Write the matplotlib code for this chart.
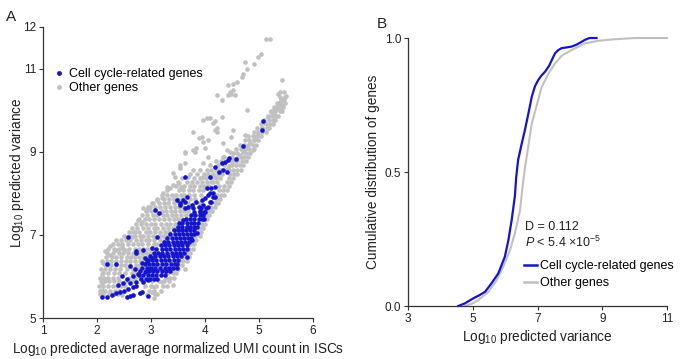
import matplotlib
matplotlib.use("Agg")
import matplotlib.pyplot as plt
from matplotlib.lines import Line2D

plt.rcParams['font.family'] = ['Liberation Sans', 'DejaVu Sans']
plt.rcParams['mathtext.fontset'] = 'custom'
plt.rcParams['mathtext.rm'] = 'Liberation Sans'
plt.rcParams['mathtext.it'] = 'Liberation Sans:italic'
plt.rcParams['mathtext.default'] = 'regular'

BLUE = '#1414cc'
GRAY = '#c0c0c0'
INK = '#222222'

# ---- panel A: (log10 mean UMI, log10 predicted variance)
other_genes = [
    # upper sparse branch
    (5.13, 11.70), (5.20, 11.71), (4.99, 11.28), (5.03, 11.34), (4.91, 11.12), (4.74, 11.15),
    (4.77, 11.00), (4.71, 10.88), (4.68, 10.80), (4.60, 10.68), (4.52, 10.64), (4.52, 10.48),
    (4.49, 10.40), (4.56, 10.36), (4.46, 10.44), (4.43, 10.36), (4.22, 10.36), (4.31, 10.24),
    (4.43, 10.60), (4.77, 10.00), (4.03, 9.80), (3.97, 9.76), (4.09, 9.80), (4.19, 9.73),
    (4.15, 9.69), (4.31, 9.84), (4.22, 9.48), (4.19, 9.52), (4.22, 9.56), (3.97, 9.24),
    (4.06, 9.27), (4.00, 9.10), (4.34, 9.20), (4.49, 9.36), (4.52, 9.52), (4.74, 9.40),
    (4.46, 9.00), (4.68, 9.08), (3.78, 9.48), (3.88, 9.32), (3.94, 9.36), (3.63, 8.96),
    (3.78, 9.04), (3.81, 9.00), (3.84, 9.08), (3.63, 9.00), (4.06, 8.88), (3.54, 8.68),
    (3.63, 8.72), (3.54, 8.60), (3.97, 8.72), (3.41, 8.48), (3.44, 8.40), (3.78, 8.56),
    (3.69, 8.40), (3.97, 8.40),
    # right-hand tip
    (5.42, 10.72), (5.39, 10.44), (5.46, 10.44), (5.48, 10.32), (5.38, 10.32), (5.39, 10.20),
    (5.36, 10.08), (5.36, 10.40), (5.45, 10.15), (5.50, 10.35), (5.45, 10.25), (5.40, 10.10),
    (5.33, 10.02), (5.27, 9.93), (5.30, 10.05), (5.35, 10.12), (5.28, 10.00), (5.40, 10.00),
    # main ridge
    (5.23, 9.96), (5.17, 9.84), (5.11, 9.68), (5.05, 9.56), (4.99, 9.44), (4.93, 9.36),
    (4.90, 9.28), (4.83, 9.20), (4.77, 9.12), (4.71, 9.00), (4.65, 8.92), (4.59, 8.86),
    (4.55, 8.80), (4.50, 8.72), (4.45, 8.65), (4.40, 8.58), (4.88, 9.05), (4.40, 9.04),
    (4.34, 8.88), (4.31, 8.72), (4.25, 8.56), (4.19, 8.40), (4.12, 8.28), (4.09, 8.16),
    # scattered points left of the band
    (3.29, 8.16), (3.35, 8.12), (3.41, 8.20), (3.51, 8.24), (3.56, 8.16), (3.23, 8.00),
    (3.29, 7.96), (3.20, 7.88), (2.86, 7.64), (2.92, 7.60), (2.98, 7.68), (3.04, 7.76),
    (3.11, 7.84), (2.76, 7.36), (2.83, 7.32), (2.55, 6.92), (2.64, 6.96), (2.67, 7.08),
    (2.46, 6.72), (2.52, 6.64), (2.24, 6.72), (2.15, 6.60), (2.24, 6.52), (2.36, 6.64),
    (2.12, 6.32), (2.21, 6.28), (2.09, 6.07), (2.09, 5.83), (2.09, 5.67), (2.46, 5.55),
    (2.67, 5.55), (2.80, 5.59), (2.92, 5.55), (3.06, 5.49), (3.01, 5.63), (3.40, 5.79),
    (3.63, 6.19), (3.06, 5.74), (3.20, 5.86),
]

# denser part of the gray cloud, one row per variance level: (y, [x ...])
other_rows = [
    (5.58, [2.05, 2.12, 2.22, 2.31, 2.38, 3.08, 3.12]),
    (5.66, [2.06, 2.14, 2.24, 2.33, 2.41, 2.97, 3.05, 3.18]),
    (5.78, [2.04, 2.11, 2.20, 2.30, 2.37, 2.45, 2.52, 2.88, 3.00, 3.10, 3.22, 3.30]),
    (5.88, [2.07, 2.14, 2.23, 2.31, 2.41, 2.53, 2.64, 3.02, 3.15, 3.24, 3.33]),
    (5.97, [2.05, 2.13, 2.21, 2.29, 2.39, 2.60, 2.71, 2.80, 3.28, 3.36, 3.43]),
    (6.08, [2.11, 2.20, 2.32, 2.41, 2.52, 2.64, 2.73, 3.32, 3.40, 3.47]),
    (6.18, [2.07, 2.15, 2.24, 2.33, 2.42, 2.55, 2.66, 2.75, 3.42, 3.50]),
    (6.27, [2.14, 2.26, 2.35, 2.44, 2.52, 2.62, 2.72, 2.79, 3.50, 3.57]),
    (6.38, [2.10, 2.18, 2.26, 2.35, 2.45, 2.53, 2.61, 2.71, 2.80, 2.86, 3.52, 3.60, 3.66]),
    (6.47, [2.16, 2.28, 2.36, 2.44, 2.55, 2.63, 2.70, 2.78, 2.86, 2.94, 3.58, 3.65, 3.70]),
    (6.57, [2.19, 2.30, 2.41, 2.49, 2.57, 2.67, 2.75, 2.83, 2.91, 2.98, 3.64, 3.72]),
    (6.67, [2.20, 2.32, 2.40, 2.48, 2.60, 2.70, 2.78, 2.85, 2.93, 3.00, 3.70, 3.77]),
    (6.77, [2.29, 2.38, 2.47, 2.58, 2.66, 2.75, 2.84, 2.95, 3.05, 3.12, 3.74, 3.80]),
    (6.87, [2.36, 2.45, 2.54, 2.61, 2.72, 2.81, 2.90, 2.97, 3.06, 3.17, 3.25, 3.78, 3.84]),
    (6.97, [2.50, 2.62, 2.70, 2.79, 2.86, 2.95, 3.03, 3.14, 3.22, 3.30, 3.82, 3.90]),
    (7.07, [2.60, 2.70, 2.78, 2.90, 2.99, 3.08, 3.17, 3.26, 3.34, 3.87, 3.93]),
    (7.17, [2.65, 2.74, 2.85, 2.95, 3.05, 3.12, 3.22, 3.31, 3.40, 3.47, 3.90, 3.97]),
    (7.27, [2.72, 2.81, 2.90, 3.00, 3.08, 3.18, 3.27, 3.36, 3.45, 3.55, 3.94, 4.00]),
    (7.37, [2.78, 2.88, 2.97, 3.05, 3.14, 3.24, 3.33, 3.42, 3.50, 3.58, 3.98, 4.04]),
    (7.47, [2.84, 2.93, 3.04, 3.12, 3.22, 3.30, 3.39, 3.46, 3.56, 3.64, 4.02, 4.08]),
    (7.57, [2.90, 3.00, 3.10, 3.20, 3.28, 3.37, 3.45, 3.53, 3.62, 3.68, 4.07, 4.13]),
    (7.67, [2.95, 3.08, 3.17, 3.26, 3.36, 3.44, 3.52, 3.60, 3.70, 4.12, 4.18]),
    (7.77, [3.02, 3.14, 3.24, 3.32, 3.43, 3.52, 3.58, 3.68, 3.80, 3.90, 4.18, 4.24]),
    (7.87, [3.12, 3.24, 3.34, 3.42, 3.50, 3.58, 3.72, 3.82, 4.20, 4.28]),
    (7.97, [3.20, 3.38, 3.46, 3.55, 3.62, 3.70, 3.80, 3.92, 4.22, 4.30, 4.36]),
    (8.07, [3.30, 3.52, 3.60, 3.70, 3.78, 3.88, 3.96, 4.26, 4.34, 4.40]),
    (8.17, [3.46, 3.62, 3.72, 3.80, 3.90, 3.98, 4.06, 4.26, 4.36, 4.44]),
    (8.27, [3.50, 3.66, 3.76, 3.86, 3.95, 4.03, 4.15, 4.22, 4.40, 4.48]),
    (8.37, [3.58, 3.80, 3.90, 4.02, 4.12, 4.20, 4.28, 4.45, 4.52]),
    (8.47, [3.72, 3.86, 3.98, 4.06, 4.15, 4.24, 4.31, 4.46, 4.54, 4.60]),
    (8.57, [3.90, 4.04, 4.12, 4.20, 4.30, 4.44, 4.52, 4.60, 4.66]),
    (8.67, [4.10, 4.24, 4.36, 4.50, 4.58, 4.64, 4.70]),
    (8.77, [4.20, 4.30, 4.50, 4.60, 4.68, 4.75]),
    (8.87, [4.36, 4.50, 4.66, 4.72, 4.80]),
    (8.97, [4.52, 4.60, 4.76, 4.84]),
    (9.07, [4.58, 4.66, 4.74, 4.82, 4.90]),
    (9.17, [4.64, 4.72, 4.80, 4.88, 4.95]),
    (9.27, [4.74, 4.82, 4.90, 4.98]),
    (9.37, [4.80, 4.88, 4.96, 5.04]),
    (9.47, [4.90, 4.98, 5.06, 5.12]),
    (9.57, [4.96, 5.06, 5.14, 5.18]),
    (9.67, [5.04, 5.12, 5.20, 5.25]),
    (9.77, [5.10, 5.18, 5.26, 5.30]),
    (9.87, [5.16, 5.24, 5.32, 5.36]),
    (9.97, [5.22, 5.30, 5.38, 5.42]),
    (10.07, [5.28, 5.36, 5.44]),
    (10.17, [5.34, 5.42, 5.48]),
    (10.27, [5.40, 5.47]),
]

cell_cycle_genes = [
    (2.10, 5.51), (2.19, 5.51), (2.27, 5.55), (2.35, 5.59), (2.43, 5.62), (2.50, 5.65),
    (2.58, 5.69), (2.66, 5.74), (2.73, 5.77), (2.55, 5.51), (2.61, 5.54), (2.67, 5.55),
    (2.80, 5.61), (2.94, 5.54), (2.35, 6.29), (2.18, 6.29), (2.58, 6.94), (2.83, 5.63),
    (2.73, 6.56), (2.86, 6.64), (3.01, 6.68), (2.61, 6.24), (2.70, 6.19), (2.83, 6.32),
    (2.92, 6.36), (3.01, 6.44), (2.46, 6.00), (2.55, 5.95), (2.67, 6.00), (2.76, 6.07),
    (2.89, 6.11), (2.98, 6.19), (2.39, 5.79), (2.49, 5.83), (2.61, 5.83), (2.73, 5.87),
    (2.86, 5.87), (2.95, 5.91),
    (3.07, 7.60), (3.14, 7.52), (3.11, 6.96), (3.48, 7.84), (3.54, 7.76), (3.60, 7.84),
    (3.66, 7.92), (3.63, 7.64), (3.51, 7.28), (3.60, 7.36), (3.66, 7.20), (3.57, 7.12),
    (2.73, 6.60), (2.89, 6.44),
    (3.63, 8.40), (4.19, 8.64), (4.31, 8.72), (4.37, 8.76), (4.43, 8.80), (4.34, 8.56),
    (4.40, 8.52), (4.25, 8.52), (4.09, 8.40), (4.03, 8.12), (4.12, 8.12), (4.19, 8.16),
    (4.09, 8.00), (4.15, 8.00), (3.63, 7.80), (3.75, 7.72), (3.84, 7.80), (3.94, 7.84),
    (4.00, 7.88), (4.06, 7.96), (3.54, 7.72), (3.69, 7.68), (3.78, 7.64), (3.88, 7.68),
    (3.97, 7.72), (4.09, 7.80), (4.15, 7.92), (4.57, 8.82), (4.45, 8.84), (4.71, 9.13),
    (5.08, 9.74), (5.05, 9.52), (3.66, 6.47), (3.48, 6.31), (3.75, 6.88), (3.85, 7.05),
    (4.00, 7.56), (4.06, 7.68), (4.12, 7.80), (4.19, 7.92), (3.90, 7.58), (3.98, 7.38),
]

# dense blue core, one row per variance level: (y, [x ...])
cell_cycle_rows = [
    (5.95, [2.82, 2.90, 2.98, 3.05, 3.12]),
    (6.03, [2.78, 2.86, 2.94, 3.02, 3.10, 3.18, 3.25]),
    (6.12, [2.80, 2.90, 2.97, 3.04, 3.12, 3.20, 3.28, 3.35]),
    (6.21, [2.84, 2.93, 3.00, 3.08, 3.17, 3.25, 3.33, 3.40, 3.48]),
    (6.30, [2.88, 2.96, 3.04, 3.12, 3.20, 3.28, 3.37, 3.44]),
    (6.39, [2.95, 3.02, 3.10, 3.18, 3.26, 3.34, 3.42, 3.50]),
    (6.48, [2.98, 3.08, 3.16, 3.24, 3.31, 3.40, 3.48, 3.55]),
    (6.57, [3.05, 3.13, 3.21, 3.30, 3.38, 3.46, 3.54, 3.62]),
    (6.66, [3.10, 3.20, 3.28, 3.36, 3.44, 3.52, 3.60, 3.67]),
    (6.75, [3.18, 3.26, 3.34, 3.42, 3.50, 3.58, 3.66]),
    (6.84, [3.24, 3.32, 3.40, 3.48, 3.56, 3.63, 3.70]),
    (6.93, [3.30, 3.38, 3.46, 3.54, 3.61, 3.68, 3.74]),
    (7.02, [3.36, 3.44, 3.52, 3.60, 3.67, 3.74, 3.80]),
    (7.11, [3.42, 3.50, 3.58, 3.65, 3.72, 3.79]),
    (7.20, [3.50, 3.58, 3.66, 3.73, 3.80, 3.86]),
    (7.29, [3.58, 3.66, 3.74, 3.80, 3.87]),
    (7.38, [3.64, 3.72, 3.80, 3.88, 3.94]),
    (7.47, [3.74, 3.82, 3.90, 3.97]),
    (7.56, [3.80, 3.90, 3.98]),
    (7.65, [3.92, 4.02]),
]

# ---- panel B: cumulative distributions of log10 predicted variance
cc_var = [4.55, 4.76, 5.02, 5.20, 5.38, 5.58, 5.79, 5.99, 6.10, 6.20, 6.30, 6.34, 6.40,
          6.50, 6.61, 6.72, 6.82, 6.92, 7.02, 7.12, 7.23, 7.35, 7.45, 7.54, 7.64, 7.74,
          7.90, 8.05, 8.20, 8.35, 8.46, 8.60, 8.82]
cc_cdf = [0.0, 0.010, 0.029, 0.040, 0.053, 0.085, 0.122, 0.184, 0.246, 0.320, 0.410, 0.480,
          0.545, 0.600, 0.657, 0.720, 0.780, 0.820, 0.843, 0.860, 0.874, 0.895, 0.920,
          0.943, 0.955, 0.962, 0.965, 0.968, 0.975, 0.985, 0.993, 1.0, 1.0]
other_var = [4.75, 5.00, 5.17, 5.48, 5.74, 5.94, 6.15, 6.30, 6.46, 6.56, 6.63, 6.82, 7.13,
             7.35, 7.54, 7.75, 8.05, 8.46, 8.90, 9.34, 10.0, 11.0]
other_cdf = [0.0, 0.010, 0.022, 0.053, 0.097, 0.147, 0.209, 0.271, 0.358, 0.470, 0.530,
             0.680, 0.818, 0.870, 0.905, 0.935, 0.955, 0.980, 0.990, 0.995, 1.0, 1.0]


def expand(points, rows):
    xs = [p[0] for p in points]
    ys = [p[1] for p in points]
    for y, row in rows:
        xs += row
        ys += [y] * len(row)
    return xs, ys


def style_axes(ax):
    for side in ('top', 'right'):
        ax.spines[side].set_visible(False)
    for side in ('left', 'bottom'):
        ax.spines[side].set_color('#333333')
        ax.spines[side].set_linewidth(0.9)
    ax.tick_params(direction='out', length=3, width=0.8, color='#333333',
                   labelsize=8.5, labelcolor=INK, pad=2)


fig = plt.figure(figsize=(6.86, 3.59), dpi=100)

# Panel A
axA = fig.add_axes([0.0627, 0.1142, 0.3936, 0.8106])
ox, oy = expand(other_genes, other_rows)
cx, cy = expand(cell_cycle_genes, cell_cycle_rows)
axA.scatter(ox, oy, s=11, color=GRAY, linewidths=0)
axA.scatter(cx, cy, s=11, color=BLUE, linewidths=0)
axA.set_xlim(1, 6)
axA.set_ylim(5, 12)
axA.set_xticks([1, 2, 3, 4, 5, 6])
axA.set_yticks([5, 7, 9, 11, 12])
style_axes(axA)
axA.set_xlabel('Log$_{10}$ predicted average normalized UMI count in ISCs',
               fontsize=9.8, color=INK, labelpad=2)
axA.set_ylabel('Log$_{10}$ predicted variance', fontsize=9.8, color=INK)
axA.yaxis.set_label_coords(-0.064, 0.5)
hA = [Line2D([], [], ls='none', marker='o', ms=3.5, mfc=BLUE, mec='none'),
      Line2D([], [], ls='none', marker='o', ms=3.5, mfc=GRAY, mec='none')]
axA.legend(hA, ['Cell cycle-related genes', 'Other genes'], loc='upper left',
           bbox_to_anchor=(55 / 686, 1 - 68 / 359), bbox_transform=fig.transFigure,
           frameon=False, fontsize=9, handlelength=0.6, handletextpad=0.5,
           labelspacing=0.2, borderpad=0, borderaxespad=0)
fig.text(11 / 686, 1 - 17 / 359, 'A', fontsize=11, color=INK, va='center', ha='center')

# Panel B
axB = fig.add_axes([0.5948, 0.1476, 0.3776, 0.7465])
axB.plot(other_var, other_cdf, color=GRAY, lw=1.5, clip_on=False)
axB.plot(cc_var, cc_cdf, color=BLUE, lw=1.6, clip_on=False)
axB.set_xlim(3, 11)
axB.set_ylim(0, 1)
axB.set_xticks([3, 5, 7, 9, 11])
axB.set_yticks([0, 0.5, 1.0])
axB.set_yticklabels(['0.0', '0.5', '1.0'])
style_axes(axB)
axB.set_xlabel('Log$_{10}$ predicted variance', fontsize=9.8, color=INK, labelpad=2)
axB.set_ylabel('Cumulative distribution of genes', fontsize=9.8, color=INK)
axB.yaxis.set_label_coords(-0.108, 0.5)
axB.text(6.61, 0.282, 'D = 0.112', fontsize=9, color=INK, va='baseline')
axB.text(6.61, 0.222, r'$\mathit{P}$ < 5.4 ×10$^{-5}$', fontsize=9, color=INK, va='baseline')
hB = [Line2D([], [], color=BLUE, lw=1.8), Line2D([], [], color=GRAY, lw=1.8)]
axB.legend(hB, ['Cell cycle-related genes', 'Other genes'], loc='upper left',
           bbox_to_anchor=(524 / 686, 1 - 260 / 359), bbox_transform=fig.transFigure,
           frameon=False, fontsize=9, handlelength=1.0, handletextpad=0.3,
           labelspacing=0.42, borderpad=0, borderaxespad=0)
fig.text(382 / 686, 1 - 24 / 359, 'B', fontsize=11, color=INK, va='center', ha='center')

fig.savefig('out.png', dpi=100)
